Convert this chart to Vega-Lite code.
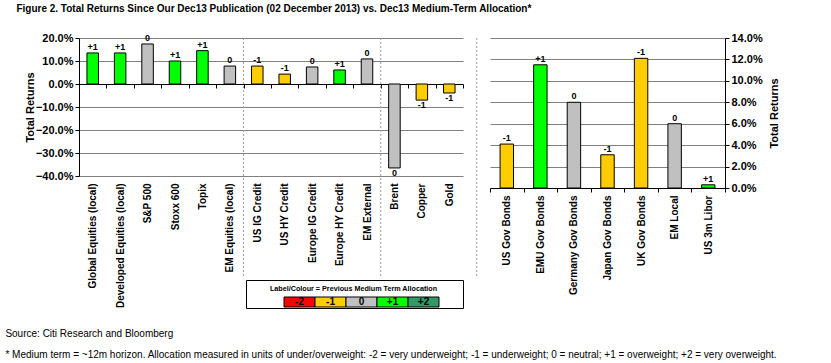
{
  "$schema": "https://vega.github.io/schema/vega-lite/v6.json",
  "background": "white",
  "padding": {"left": 5, "top": 4, "right": 10, "bottom": 5},
  "title": {
    "text": "Figure 2. Total Returns Since Our Dec13 Publication (02 December 2013) vs. Dec13 Medium-Term Allocation*",
    "anchor": "start",
    "font": "Liberation Sans Narrow, Arial Narrow, Liberation Sans",
    "fontSize": 10,
    "fontWeight": "bold",
    "color": "black",
    "dx": 11,
    "offset": 18
  },
  "datasets": {
    "left": [
      {"asset": "Global Equities (local)", "ret": 0.135, "alloc": "+1"},
      {"asset": "Developed Equities (local)", "ret": 0.135, "alloc": "+1"},
      {"asset": "S&P 500", "ret": 0.174, "alloc": "0"},
      {"asset": "Stoxx 600", "ret": 0.100, "alloc": "+1"},
      {"asset": "Topix", "ret": 0.145, "alloc": "+1"},
      {"asset": "EM Equities (local)", "ret": 0.078, "alloc": "0"},
      {"asset": "US IG Credit", "ret": 0.078, "alloc": "-1"},
      {"asset": "US HY Credit", "ret": 0.043, "alloc": "-1"},
      {"asset": "Europe IG Credit", "ret": 0.074, "alloc": "0"},
      {"asset": "Europe HY Credit", "ret": 0.061, "alloc": "+1"},
      {"asset": "EM External", "ret": 0.109, "alloc": "0"},
      {"asset": "Brent", "ret": -0.365, "alloc": "0"},
      {"asset": "Copper", "ret": -0.070, "alloc": "-1"},
      {"asset": "Gold", "ret": -0.039, "alloc": "-1"}
    ],
    "right": [
      {"asset": "US Gov Bonds", "ret": 0.041, "alloc": "-1"},
      {"asset": "EMU Gov Bonds", "ret": 0.115, "alloc": "+1"},
      {"asset": "Germany Gov Bonds", "ret": 0.080, "alloc": "0"},
      {"asset": "Japan Gov Bonds", "ret": 0.031, "alloc": "-1"},
      {"asset": "UK Gov Bonds", "ret": 0.121, "alloc": "-1"},
      {"asset": "EM Local", "ret": 0.060, "alloc": "0"},
      {"asset": "US 3m Libor", "ret": 0.003, "alloc": "+1"}
    ],
    "codes": [
      {"code": "-2"},
      {"code": "-1"},
      {"code": "0"},
      {"code": "+1"},
      {"code": "+2"}
    ]
  },
  "config": {
    "view": {"stroke": null},
    "font": "Liberation Sans",
    "axis": {
      "labelFont": "Liberation Sans",
      "labelFontWeight": "bold",
      "labelFontSize": 10,
      "labelColor": "black",
      "titleFont": "Liberation Sans",
      "titleFontWeight": "bold",
      "titleFontSize": 11,
      "titleColor": "black",
      "domainColor": "black",
      "tickColor": "black",
      "tickSize": 4,
      "gridColor": "#808080",
      "gridWidth": 1
    }
  },
  "vconcat": [
    {
      "title": {
        "text": [
          "Source: Citi Research and Bloomberg",
          "* Medium term = ~12m horizon. Allocation measured in units of under/overweight: -2 = very underweight; -1 = underweight; 0 = neutral; +1 = overweight; +2 = very overweight."
        ],
        "orient": "bottom",
        "anchor": "start",
        "font": "Liberation Sans Narrow, Arial Narrow, Liberation Sans",
        "fontSize": 10,
        "fontWeight": "normal",
        "color": "black",
        "lineHeight": 21,
        "offset": 20,
        "dx": -19
      },
      "bounds": "full",
      "spacing": 7,
      "hconcat": [
        {
          "bounds": "flush",
          "spacing": 104,
          "vconcat": [
            {
              "width": 384,
              "height": 138,
              "resolve": {"scale": {"y": "independent"}, "axis": {"y": "independent"}},
              "layer": [
                {
                  "data": {"name": "left"},
                  "encoding": {
                    "x": {
                      "field": "asset",
                      "type": "nominal",
                      "sort": null,
                      "scale": {
                        "domain": ["Global Equities (local)", "Developed Equities (local)", "S&P 500", "Stoxx 600", "Topix", "EM Equities (local)", "US IG Credit", "US HY Credit", "Europe IG Credit", "Europe HY Credit", "EM External", "Brent", "Copper", "Gold"],
                        "paddingInner": 0,
                        "paddingOuter": 0
                      },
                      "axis": {
                        "title": null,
                        "labelAngle": -90,
                        "offset": -92,
                        "labelPadding": 95,
                        "tickBand": "extent",
                        "labelLimit": 200
                      }
                    },
                    "y": {
                      "field": "ret",
                      "type": "quantitative",
                      "scale": {"domain": [-0.4, 0.2], "nice": false},
                      "axis": {
                        "title": "Total Returns",
                        "values": [-0.4, -0.3, -0.2, -0.1, 0, 0.1, 0.2],
                        "format": ".1%",
                        "grid": true,
                        "labelOverlap": false,
                        "labelFontSize": 11,
                        "titlePadding": 0
                      }
                    }
                  },
                  "layer": [
                    {
                      "mark": {"type": "bar", "stroke": "black", "strokeWidth": 1, "width": {"band": 0.42}},
                      "encoding": {
                        "color": {
                          "field": "alloc",
                          "type": "nominal",
                          "scale": {
                            "domain": ["-2", "-1", "0", "+1", "+2"],
                            "range": ["#FF0000", "#FFCC00", "#C0C0C0", "#00FF00", "#339966"]
                          },
                          "legend": null
                        }
                      }
                    },
                    {
                      "transform": [{"filter": "datum.ret >= 0"}],
                      "mark": {"type": "text", "baseline": "bottom", "dy": -1, "fontSize": 9, "fontWeight": "bold", "color": "black"},
                      "encoding": {"text": {"field": "alloc"}}
                    },
                    {
                      "transform": [{"filter": "datum.ret < 0"}],
                      "mark": {"type": "text", "baseline": "top", "dy": 1, "fontSize": 9, "fontWeight": "bold", "color": "black"},
                      "encoding": {"text": {"field": "alloc"}}
                    }
                  ]
                },
                {
                  "data": {"name": "left"},
                  "encoding": {
                    "y": {"datum": 0.2, "type": "quantitative", "scale": {"domain": [-0.4, 0.2], "nice": false}, "axis": null},
                    "y2": {"datum": -0.84}
                  },
                  "layer": [
                    {
                      "transform": [{"filter": "datum.asset === 'EM Equities (local)' || datum.asset === 'EM External'"}],
                      "mark": {"type": "rule", "color": "#a0a0a0", "strokeDash": [2, 2], "strokeWidth": 1},
                      "encoding": {
                        "x": {"field": "asset", "type": "nominal", "bandPosition": 1}
                      }
                    },
                    {
                      "transform": [{"filter": "datum.asset === 'Gold'"}],
                      "mark": {"type": "rule", "color": "#a0a0a0", "strokeDash": [2, 2], "strokeWidth": 1},
                      "encoding": {
                        "x": {"field": "asset", "type": "nominal", "bandPosition": 1.5}
                      }
                    }
                  ]
                }
              ]
            },
            {
              "bounds": "flush",
              "spacing": 0,
              "hconcat": [
                {
                  "width": 167,
                  "height": 28,
                  "data": {"values": []},
                  "mark": "point"
                },
                {
                  "width": 217,
                  "height": 28,
                  "view": {"stroke": "black", "strokeWidth": 1, "fill": "white"},
                  "data": {"name": "codes"},
                  "encoding": {
                    "x": {
                      "field": "code",
                      "type": "nominal",
                      "sort": null,
                      "scale": {
                        "domain": ["-2", "-1", "0", "+1", "+2"],
                        "paddingInner": 0,
                        "paddingOuter": 1,
                        "align": 0.613
                      },
                      "axis": null
                    },
                    "y": {
                      "datum": "c",
                      "type": "nominal",
                      "scale": {"domain": ["t", "c"], "paddingInner": 0, "paddingOuter": 0.4, "align": 0.875},
                      "axis": null
                    }
                  },
                  "layer": [
                    {
                      "mark": {"type": "rect", "stroke": "black", "strokeWidth": 1},
                      "encoding": {
                        "color": {
                          "field": "code",
                          "type": "nominal",
                          "scale": {
                            "domain": ["-2", "-1", "0", "+1", "+2"],
                            "range": ["#FF0000", "#FFCC00", "#C0C0C0", "#00FF00", "#339966"]
                          },
                          "legend": null
                        }
                      }
                    },
                    {
                      "mark": {"type": "text", "fontSize": 10, "fontWeight": "bold", "color": "black", "baseline": "middle"},
                      "encoding": {"text": {"field": "code"}}
                    },
                    {
                      "transform": [{"filter": "datum.code === '0'"}],
                      "mark": {"type": "text", "fontSize": 7.2, "fontWeight": "bold", "color": "black", "baseline": "middle", "dx": -8, "dy": -3},
                      "encoding": {
                        "y": {"datum": "t", "type": "nominal", "axis": null},
                        "text": {"value": "Label/Colour = Previous Medium Term Allocation"}
                      }
                    }
                  ]
                }
              ]
            }
          ]
        },
        {
          "width": 235,
          "height": 150,
          "data": {"name": "right"},
          "encoding": {
            "x": {
              "field": "asset",
              "type": "nominal",
              "sort": null,
              "scale": {"paddingInner": 0, "paddingOuter": 0},
              "axis": {
                "title": null,
                "labelAngle": -90,
                "labelPadding": 3,
                "tickBand": "extent",
                "labelLimit": 200
              }
            },
            "y": {
              "field": "ret",
              "type": "quantitative",
              "scale": {"domain": [0, 0.14], "nice": false},
              "axis": {
                "orient": "right",
                "title": "Total Returns",
                "titleAngle": 270,
                "values": [0, 0.02, 0.04, 0.06, 0.08, 0.1, 0.12, 0.14],
                "format": ".1%",
                "grid": true,
                "labelOverlap": false,
                "labelFontSize": 11,
                "titlePadding": 17
              }
            }
          },
          "layer": [
            {
              "mark": {"type": "bar", "stroke": "black", "strokeWidth": 1, "width": {"band": 0.4}},
              "encoding": {
                "color": {
                  "field": "alloc",
                  "type": "nominal",
                  "scale": {
                    "domain": ["-2", "-1", "0", "+1", "+2"],
                    "range": ["#FF0000", "#FFCC00", "#C0C0C0", "#00FF00", "#339966"]
                  },
                  "legend": null
                }
              }
            },
            {
              "mark": {"type": "text", "baseline": "bottom", "dy": -1, "fontSize": 9, "fontWeight": "bold", "color": "black"},
              "encoding": {"text": {"field": "alloc"}}
            }
          ]
        }
      ]
    }
  ]
}
